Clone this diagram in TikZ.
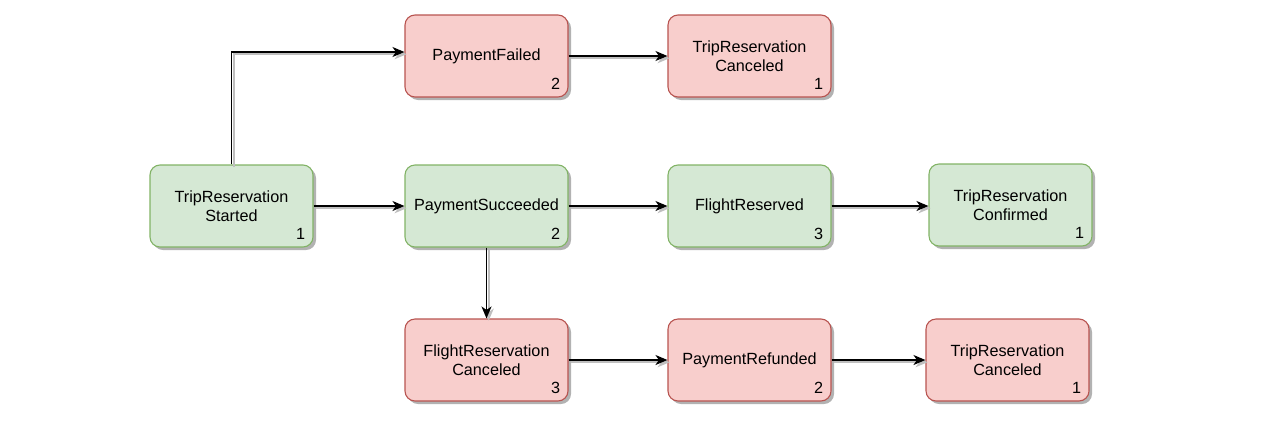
\documentclass[tikz,border=0pt]{standalone}
\usepackage{fontspec}
\setmainfont{Liberation Sans}
\usetikzlibrary{arrows.meta,shadows,positioning}
\definecolor{gfill}{HTML}{D5E8D4}
\definecolor{gline}{HTML}{82B366}
\definecolor{rfill}{HTML}{F8CECC}
\definecolor{rline}{HTML}{B85450}
\tikzset{
  evbox/.style={rounded corners=10pt, minimum width=163pt, minimum height=82pt,
    line width=1.1pt, align=center, inner sep=0pt,
    font=\fontsize{16.2pt}{19.5pt}\selectfont,
    drop shadow={shadow xshift=3pt, shadow yshift=-3pt, fill=black, opacity=0.3}},
  okbox/.style={evbox, fill=gfill, draw=gline},
  badbox/.style={evbox, fill=rfill, draw=rline},
  numlbl/.style={font=\fontsize{16.2pt}{19.5pt}\selectfont, inner sep=0pt},
  conn/.style={line width=1.4pt, -{Stealth[length=12pt,width=10pt,inset=3.5pt]}},
  connshadow/.style={line width=1.8pt, draw=black!25, -{Stealth[length=12pt,width=10pt,inset=3.5pt]}, transform canvas={xshift=2.2pt,yshift=-2.2pt}}
}
\newcommand{\evnum}[2]{\node[numlbl, anchor=center] at ([xshift=-13pt,yshift=14pt]#1.south east) {#2};}
\begin{document}
\begin{tikzpicture}[x=1pt,y=-1pt]
\useasboundingbox (0,0) rectangle (1263,421);
\node[okbox]  (start) at (231.5,206) {TripReservation\\Started};
\node[okbox]  (psucc) at (486.5,206) {PaymentSucceeded};
\node[okbox]  (fres)  at (749.5,206) {FlightReserved};
\node[okbox]  (tconf) at (1010.5,205) {TripReservation\\Confirmed};
\node[badbox] (pfail) at (486.5,56) {PaymentFailed};
\node[badbox] (tcan1) at (749.5,56) {TripReservation\\Canceled};
\node[badbox] (frcan) at (486.5,360) {FlightReservation\\Canceled};
\node[badbox] (pref)  at (749.5,360) {PaymentRefunded};
\node[badbox] (tcan2) at (1007.5,360) {TripReservation\\Canceled};
\evnum{start}{1}
\evnum{psucc}{2}
\evnum{fres}{3}
\evnum{tconf}{1}
\evnum{pfail}{2}
\evnum{tcan1}{1}
\evnum{frcan}{3}
\evnum{pref}{2}
\evnum{tcan2}{1}
\coordinate (bend) at (231.5,52);
\foreach \s in {connshadow,conn}{
  \draw[\s] (start.north) -- (bend) -- (pfail.west |- bend);
  \draw[\s] (start.east) -- (psucc.west);
  \draw[\s] (psucc.east) -- (fres.west);
  \draw[\s] (fres.east) -- (tconf.west |- fres.east);
  \draw[\s] (pfail.east) -- (tcan1.west);
  \draw[\s] (psucc.south) -- (frcan.north);
  \draw[\s] (frcan.east) -- (pref.west);
  \draw[\s] (pref.east) -- (tcan2.west);
}
\end{tikzpicture}
\end{document}
